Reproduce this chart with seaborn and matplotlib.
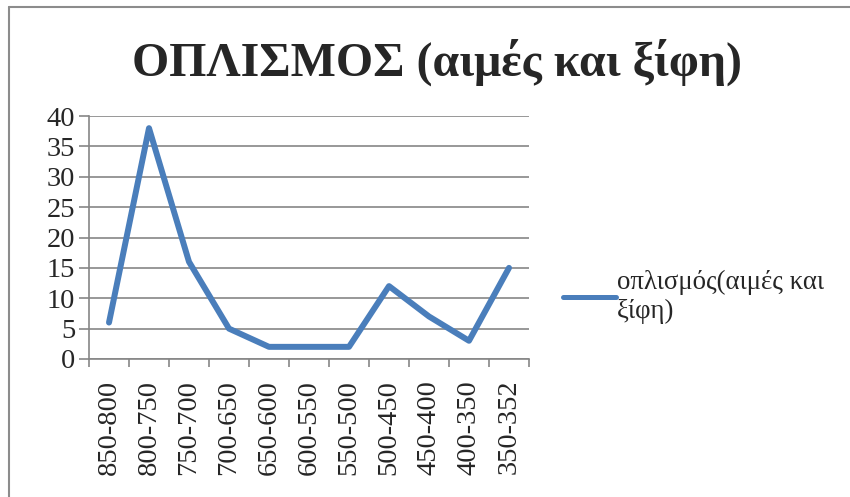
import pandas as pd
import seaborn as sns
import matplotlib.pyplot as plt
from matplotlib.lines import Line2D

# Data
ranges = ['850-800', '800-750', '750-700', '700-650', '650-600', '600-550',
          '550-500', '500-450', '450-400', '400-350', '350-352']
counts = [6, 38, 16, 5, 2, 2, 2, 12, 7, 3, 15]
series_name = 'οπλισμός(αιμές και\nξίφη)'
title = 'ΟΠΛΙΣΜΟΣ (αιμές και ξίφη)'

data = pd.DataFrame({'range': ranges, 'count': counts})

sns.set_style('white')
plt.rcParams['font.family'] = ['Liberation Serif', 'DejaVu Serif']

fig = plt.figure(figsize=(8.5, 4.97), dpi=100)
ax = fig.add_axes([89 / 850, 1 - 359 / 497, 440 / 850, 243 / 497])

sns.lineplot(x='range', y='count', data=data, ax=ax, color='#4A7EBB',
             linewidth=4.3, label=series_name, sort=False)
ax.lines[0].set_solid_capstyle('round')
ax.lines[0].set_solid_joinstyle('round')

# Axes styling (Excel-like)
ax.set_xlim(-0.5, len(ranges) - 0.5)
ax.set_ylim(0, 40)
ax.set_yticks(range(0, 41, 5))
ax.set_xticks(range(len(ranges)))
ax.set_xticklabels(ranges, rotation=90, fontsize=20.5)
ax.tick_params(axis='y', labelsize=20.5, length=7, color='#868686', width=1.2,
               left=True, pad=3)
ax.tick_params(axis='x', length=0, pad=15)
# ticks between categories
ax.set_xticks([i - 0.5 for i in range(len(ranges) + 1)], minor=True)
ax.tick_params(axis='x', which='minor', bottom=True, length=6,
               color='#868686', width=1.2)
ax.grid(axis='y', color='#868686', linewidth=1.2)
ax.set_axisbelow(True)
for side in ['top', 'right']:
    ax.spines[side].set_visible(False)
for side in ['left', 'bottom']:
    ax.spines[side].set_color('#868686')
    ax.spines[side].set_linewidth(1.2)
ax.set_xlabel('')
ax.set_ylabel('')

leg = ax.legend(loc='center left', bbox_to_anchor=(563 / 850, 1 - 297 / 497),
                bbox_transform=fig.transFigure, frameon=False, fontsize=19.4,
                handlelength=1.95, handletextpad=0.05, borderaxespad=0,
                borderpad=0, labelspacing=0)
leg.get_lines()[0].set_linewidth(3.6)

fig.text(437 / 850, 1 - 62 / 497, title, ha='center', va='center',
         fontsize=34.5, fontweight='bold')

# chart border (left and top edges visible)
fig.add_artist(Line2D([9 / 850, 9 / 850], [0, 1 - 7 / 497],
                      transform=fig.transFigure, color='#8c8c8c', linewidth=1.5))
fig.add_artist(Line2D([9 / 850, 1], [1 - 7 / 497, 1 - 7 / 497],
                      transform=fig.transFigure, color='#8c8c8c', linewidth=1.5))

plt.savefig('out.png', dpi=100)
plt.close()
